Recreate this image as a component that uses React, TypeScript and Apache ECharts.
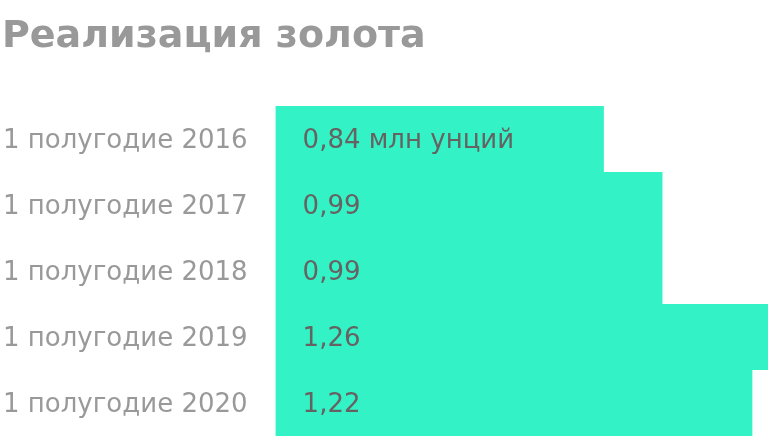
import { useEffect, useRef } from "react";
import * as echarts from "echarts";

const periods = [
  "1 полугодие 2016",
  "1 полугодие 2017",
  "1 полугодие 2018",
  "1 полугодие 2019",
  "1 полугодие 2020",
];
const sales = [0.84, 0.99, 0.99, 1.26, 1.22];
const valueLabels = ["0,84 млн унций", "0,99", "0,99", "1,26", "1,22"];

const FONT = "DejaVu Sans";

export default function App() {
  const chartRef = useRef<HTMLDivElement | null>(null);

  useEffect(() => {
    if (!chartRef.current) return;
    const chart = echarts.init(chartRef.current, undefined, { renderer: "svg" });
    chart.setOption({
      animation: false,
      textStyle: { fontFamily: FONT },
      title: {
        text: "Реализация золота",
        left: -3,
        top: 10,
        textStyle: { fontSize: 38, fontWeight: "bold", color: "#999999", fontFamily: FONT },
      },
      grid: { left: 275, right: 0, top: 106, bottom: 4 },
      xAxis: {
        type: "value",
        min: 0,
        max: 1.26,
        show: false,
      },
      yAxis: {
        type: "category",
        inverse: true,
        data: periods,
        axisLine: { show: false },
        axisTick: { show: false },
        axisLabel: { color: "#999999", fontSize: 26, margin: 28, fontFamily: FONT },
      },
      series: [
        {
          type: "bar",
          data: sales,
          barCategoryGap: 0,
          itemStyle: { color: "#33f3c6" },
          label: {
            show: true,
            position: "insideLeft",
            distance: 27,
            color: "#666262",
            fontSize: 26,
            fontFamily: FONT,
            formatter: (p: any) => valueLabels[p.dataIndex],
          },
        },
      ],
    });
    return () => chart.dispose();
  }, []);

  return (
    <div
      ref={chartRef}
      style={{ position: "fixed", left: 0, top: 0, width: 768, height: 440 }}
    />
  );
}
